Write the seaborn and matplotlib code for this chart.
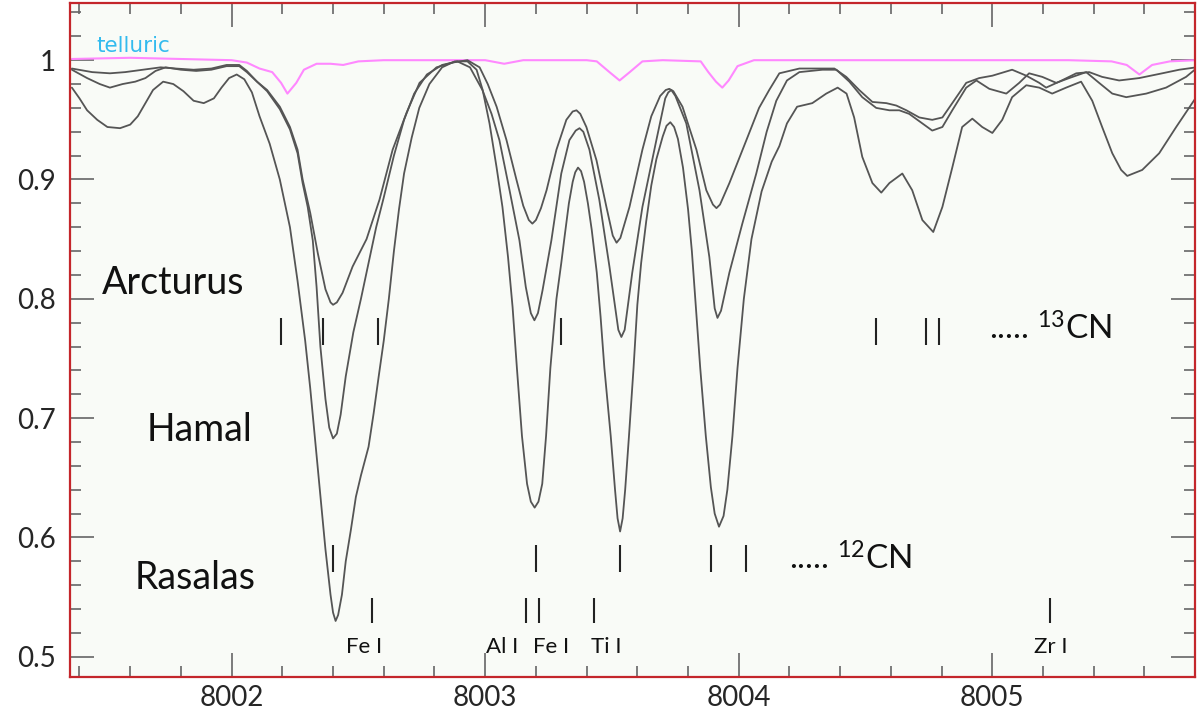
import numpy as np
import pandas as pd
import seaborn as sns
import matplotlib
matplotlib.use("Agg")
import matplotlib.pyplot as plt
from matplotlib.ticker import MultipleLocator, FuncFormatter

# ESPECTRO DE RASALAS (LINEAS MAS PROFUNDAS): (longitud de onda, flujo)
rasalas = [(8001.37, 0.977), (8001.40, 0.968), (8001.43, 0.958), (8001.47, 0.950), (8001.51, 0.944),
           (8001.56, 0.943), (8001.60, 0.946), (8001.63, 0.953), (8001.66, 0.964), (8001.69, 0.975),
           (8001.73, 0.982), (8001.77, 0.980), (8001.81, 0.974), (8001.85, 0.966), (8001.89, 0.964),
           (8001.93, 0.968), (8001.96, 0.977), (8001.99, 0.985), (8002.02, 0.988), (8002.05, 0.984),
           (8002.08, 0.973), (8002.11, 0.953), (8002.15, 0.930), (8002.19, 0.900), (8002.23, 0.860),
           (8002.26, 0.815), (8002.29, 0.765), (8002.31, 0.725), (8002.33, 0.680), (8002.35, 0.635),
           (8002.37, 0.590), (8002.39, 0.552), (8002.40, 0.537), (8002.41, 0.530), (8002.42, 0.535),
           (8002.435, 0.552), (8002.45, 0.580), (8002.47, 0.606), (8002.49, 0.634), (8002.51, 0.652),
           (8002.54, 0.676), (8002.56, 0.704), (8002.58, 0.735), (8002.60, 0.765), (8002.62, 0.800),
           (8002.64, 0.840), (8002.66, 0.875), (8002.68, 0.905), (8002.71, 0.935), (8002.74, 0.960),
           (8002.78, 0.980), (8002.83, 0.994), (8002.88, 0.999), (8002.93, 0.999), (8002.966, 0.992),
           (8002.99, 0.975), (8003.017, 0.947), (8003.045, 0.910), (8003.068, 0.877), (8003.09, 0.835),
           (8003.108, 0.793), (8003.125, 0.742), (8003.145, 0.685), (8003.165, 0.645), (8003.18, 0.630),
           (8003.195, 0.625), (8003.21, 0.630), (8003.225, 0.645), (8003.24, 0.685), (8003.257, 0.742),
           (8003.281, 0.800), (8003.30, 0.830), (8003.313, 0.852), (8003.33, 0.880), (8003.345, 0.898),
           (8003.355, 0.906), (8003.366, 0.910), (8003.378, 0.907), (8003.39, 0.898), (8003.405, 0.880),
           (8003.42, 0.858), (8003.44, 0.822), (8003.455, 0.785), (8003.47, 0.742), (8003.495, 0.685),
           (8003.512, 0.640), (8003.522, 0.616), (8003.532, 0.605), (8003.542, 0.616), (8003.552, 0.640),
           (8003.567, 0.685), (8003.585, 0.742), (8003.60, 0.795), (8003.615, 0.830), (8003.635, 0.865),
           (8003.655, 0.895), (8003.675, 0.917), (8003.70, 0.936), (8003.715, 0.945), (8003.73, 0.948),
           (8003.745, 0.944), (8003.76, 0.934), (8003.78, 0.910), (8003.80, 0.875), (8003.815, 0.840),
           (8003.83, 0.795), (8003.848, 0.742), (8003.87, 0.685), (8003.89, 0.642), (8003.905, 0.620),
           (8003.922, 0.609), (8003.94, 0.618), (8003.955, 0.640), (8003.975, 0.685), (8003.995, 0.742),
           (8004.02, 0.800), (8004.05, 0.850), (8004.09, 0.890), (8004.13, 0.915), (8004.16, 0.928),
           (8004.19, 0.947), (8004.23, 0.961), (8004.29, 0.964), (8004.345, 0.972), (8004.39, 0.977),
           (8004.425, 0.972), (8004.455, 0.952), (8004.487, 0.919), (8004.527, 0.897), (8004.562, 0.889),
           (8004.594, 0.897), (8004.645, 0.905), (8004.684, 0.891), (8004.724, 0.866), (8004.767, 0.856),
           (8004.803, 0.877), (8004.842, 0.910), (8004.881, 0.944), (8004.921, 0.951), (8004.96, 0.944),
           (8005.0, 0.939), (8005.039, 0.950), (8005.078, 0.969), (8005.134, 0.979), (8005.185, 0.977),
           (8005.236, 0.972), (8005.291, 0.977), (8005.35, 0.982), (8005.394, 0.966), (8005.433, 0.944),
           (8005.473, 0.922), (8005.508, 0.908), (8005.532, 0.903), (8005.591, 0.908), (8005.658, 0.922),
           (8005.725, 0.944), (8005.804, 0.969)]

# ESPECTRO DE ARCTURUS (LINEAS MAS DEBILES)
arcturus = [(8001.37, 0.993), (8001.45, 0.990), (8001.52, 0.989), (8001.58, 0.990), (8001.65, 0.992),
            (8001.72, 0.994), (8001.78, 0.993), (8001.85, 0.992), (8001.92, 0.993), (8001.98, 0.996),
            (8002.03, 0.996), (8002.06, 0.991), (8002.10, 0.982), (8002.14, 0.975), (8002.19, 0.961),
            (8002.23, 0.944), (8002.26, 0.925), (8002.28, 0.900), (8002.31, 0.872), (8002.34, 0.838),
            (8002.37, 0.808), (8002.39, 0.797), (8002.40, 0.795), (8002.415, 0.797), (8002.4375, 0.805),
            (8002.477, 0.827), (8002.532, 0.850), (8002.583, 0.883), (8002.635, 0.925), (8002.69, 0.956),
            (8002.741, 0.981), (8002.808, 0.994), (8002.871, 0.998), (8002.93, 1.000), (8002.978, 0.994),
            (8003.01, 0.980), (8003.045, 0.961), (8003.084, 0.933), (8003.123, 0.900), (8003.15, 0.878),
            (8003.172, 0.866), (8003.186, 0.863), (8003.20, 0.866), (8003.22, 0.876), (8003.242, 0.891),
            (8003.281, 0.925), (8003.32, 0.950), (8003.345, 0.957), (8003.36, 0.958), (8003.375, 0.955),
            (8003.399, 0.944), (8003.439, 0.916), (8003.478, 0.877), (8003.503, 0.853), (8003.518, 0.847),
            (8003.533, 0.851), (8003.569, 0.877), (8003.62, 0.925), (8003.655, 0.953), (8003.69, 0.970),
            (8003.712, 0.975), (8003.726, 0.976), (8003.742, 0.974), (8003.778, 0.961), (8003.833, 0.925),
            (8003.872, 0.891), (8003.898, 0.879), (8003.912, 0.876), (8003.926, 0.879), (8003.963, 0.897),
            (8004.03, 0.933), (8004.08, 0.960), (8004.12, 0.975), (8004.16, 0.989), (8004.239, 0.993),
            (8004.33, 0.993), (8004.377, 0.993), (8004.424, 0.986), (8004.475, 0.975), (8004.527, 0.965),
            (8004.582, 0.964), (8004.621, 0.962), (8004.661, 0.958), (8004.712, 0.952), (8004.763, 0.950),
            (8004.803, 0.952), (8004.842, 0.964), (8004.897, 0.981), (8004.948, 0.985), (8005.0, 0.987),
            (8005.078, 0.992), (8005.134, 0.987), (8005.185, 0.981), (8005.212, 0.977), (8005.264, 0.982),
            (8005.331, 0.989), (8005.382, 0.990), (8005.433, 0.986), (8005.50, 0.983), (8005.579, 0.985),
            (8005.67, 0.989), (8005.737, 0.992), (8005.804, 0.994)]

# ESPECTRO DE HAMAL (INTERMEDIO)
hamal = [(8001.37, 0.992), (8001.43, 0.985), (8001.48, 0.980), (8001.52, 0.977), (8001.57, 0.980),
         (8001.62, 0.982), (8001.66, 0.985), (8001.70, 0.991), (8001.74, 0.994), (8001.80, 0.992),
         (8001.86, 0.991), (8001.92, 0.992), (8001.98, 0.995), (8002.03, 0.995), (8002.06, 0.990),
         (8002.10, 0.982), (8002.14, 0.974), (8002.19, 0.959), (8002.23, 0.942), (8002.26, 0.922),
         (8002.28, 0.897), (8002.30, 0.877), (8002.32, 0.849), (8002.335, 0.810), (8002.35, 0.760),
         (8002.37, 0.716), (8002.385, 0.692), (8002.40, 0.683), (8002.415, 0.687), (8002.43, 0.703),
         (8002.45, 0.735), (8002.48, 0.772), (8002.51, 0.800), (8002.54, 0.830), (8002.57, 0.860),
         (8002.60, 0.885), (8002.64, 0.920), (8002.68, 0.950), (8002.72, 0.972), (8002.77, 0.988),
         (8002.83, 0.996), (8002.89, 0.999), (8002.94, 0.994), (8002.989, 0.975), (8003.025, 0.955),
         (8003.056, 0.933), (8003.096, 0.891), (8003.135, 0.849), (8003.16, 0.810), (8003.18, 0.788),
         (8003.194, 0.782), (8003.208, 0.788), (8003.226, 0.807), (8003.261, 0.849), (8003.30, 0.905),
         (8003.332, 0.933), (8003.357, 0.941), (8003.372, 0.943), (8003.387, 0.940), (8003.411, 0.925),
         (8003.45, 0.883), (8003.49, 0.827), (8003.525, 0.774), (8003.537, 0.768), (8003.55, 0.774),
         (8003.58, 0.822), (8003.62, 0.877), (8003.675, 0.933), (8003.71, 0.968), (8003.722, 0.973),
         (8003.734, 0.975), (8003.75, 0.970), (8003.793, 0.947), (8003.845, 0.891), (8003.884, 0.835),
         (8003.905, 0.792), (8003.916, 0.784), (8003.93, 0.790), (8003.963, 0.822), (8004.014, 0.863),
         (8004.069, 0.905), (8004.11, 0.940), (8004.148, 0.966), (8004.19, 0.983), (8004.239, 0.990),
         (8004.33, 0.992), (8004.385, 0.992), (8004.436, 0.982), (8004.487, 0.969), (8004.542, 0.960),
         (8004.594, 0.958), (8004.633, 0.958), (8004.672, 0.955), (8004.724, 0.947), (8004.763, 0.941),
         (8004.803, 0.944), (8004.842, 0.958), (8004.897, 0.977), (8004.937, 0.983), (8004.988, 0.976),
         (8005.055, 0.972), (8005.106, 0.981), (8005.145, 0.989), (8005.197, 0.986), (8005.252, 0.981),
         (8005.303, 0.985), (8005.37, 0.990), (8005.421, 0.981), (8005.473, 0.972), (8005.528, 0.969),
         (8005.607, 0.972), (8005.685, 0.977), (8005.764, 0.986), (8005.804, 0.993)]

# ESPECTRO TELURICO
telluric = [(8001.37, 1.001), (8001.60, 1.002), (8001.80, 1.001), (8002.00, 1.000), (8002.06, 0.998),
            (8002.11, 0.993), (8002.16, 0.990), (8002.195, 0.981), (8002.22, 0.972), (8002.255, 0.981),
            (8002.285, 0.992), (8002.335, 0.997), (8002.39, 0.997), (8002.44, 0.996), (8002.50, 0.999),
            (8002.60, 1.000), (8002.80, 1.000), (8003.00, 1.000), (8003.075, 0.997), (8003.15, 1.000),
            (8003.40, 1.000), (8003.44, 0.999), (8003.49, 0.990), (8003.53, 0.983), (8003.57, 0.990),
            (8003.62, 0.999), (8003.70, 1.000), (8003.85, 0.999), (8003.88, 0.990), (8003.91, 0.982),
            (8003.935, 0.977), (8003.96, 0.983), (8003.995, 0.995), (8004.06, 1.000), (8004.50, 1.000),
            (8004.80, 1.000), (8005.00, 1.000), (8005.30, 1.000), (8005.47, 0.999), (8005.53, 0.996),
            (8005.58, 0.988), (8005.63, 0.996), (8005.70, 0.999), (8005.804, 1.000)]

# IDENTIFICACION DE LINEAS
cn13_lines = [8002.193, 8002.359, 8002.579, 8003.30, 8004.54, 8004.74, 8004.79]
cn12_lines = [8002.40, 8003.20, 8003.53, 8003.89, 8004.03]
atomic_lines = [8002.552, 8003.159, 8003.214, 8003.431, 8005.228]
atomic_names = ["Fe I", "Al I", "Fe I", "Ti I", "Zr I"]
atomic_label_x = [8002.524, 8003.068, 8003.261, 8003.478, 8005.232]

star_names = ["Arcturus", "Hamal", "Rasalas"]
star_label_x = [8001.771, 8001.874, 8001.858]
star_label_y = [0.813, 0.690, 0.566]

sns.set_theme(style="ticks")
plt.rcParams['font.family'] = ['Lato', 'DejaVu Sans']

fig = plt.figure(figsize=(12, 7.28), dpi=100)
ax = fig.add_axes([0.058, 0.07, 0.938, 0.926])
ax.set_facecolor('#f9fbf7')

grey = '#555555'
tel = pd.DataFrame(telluric, columns=['wl', 'flux'])
sns.lineplot(data=tel, x='wl', y='flux', ax=ax, color='#ff88ff', lw=1.5, estimator=None)
for spec in [arcturus, hamal, rasalas]:
    df = pd.DataFrame(spec, columns=['wl', 'flux'])
    sns.lineplot(data=df, x='wl', y='flux', ax=ax, color=grey, lw=1.3, estimator=None)

# MARCAS DE LINEAS
ax.vlines(cn13_lines, 0.761, 0.784, color='#222222', lw=1.5)
ax.vlines(cn12_lines, 0.571, 0.594, color='#222222', lw=1.5)
ax.vlines(atomic_lines, 0.528, 0.549, color='#222222', lw=1.5)

for name, xx in zip(atomic_names, atomic_label_x):
    ax.text(xx, 0.508, name, ha='center', va='center', fontsize=16, color='#111111')

for name, xx, yy in zip(star_names, star_label_x, star_label_y):
    ax.text(xx, yy, name, ha='center', va='center', fontsize=27, color='#111111')

ax.text(8004.988, 0.7655, r"..... $\mathregular{^{13}}$CN", ha='left', va='baseline',
        fontsize=24, color='#111111')
ax.text(8004.20, 0.573, r"..... $\mathregular{^{12}}$CN", ha='left', va='baseline',
        fontsize=24, color='#111111')
ax.text(8001.468, 1.0067, "telluric", ha='left', va='baseline', fontsize=15.5,
        color='#33bbee', family='DejaVu Sans')

ax.set_xlim(8001.361, 8005.80)
ax.set_ylim(0.483, 1.048)
ax.set_xlabel('')
ax.set_ylabel('')

ax.xaxis.set_major_locator(MultipleLocator(1))
ax.xaxis.set_minor_locator(MultipleLocator(0.2))
ax.yaxis.set_major_locator(MultipleLocator(0.1))
ax.yaxis.set_minor_locator(MultipleLocator(0.02))
ax.xaxis.set_major_formatter(FuncFormatter(lambda v, p: f"{v:.0f}"))
ax.yaxis.set_major_formatter(FuncFormatter(lambda v, p: f"{v:g}"))

ax.tick_params(which='both', direction='in', top=True, right=True, color='#666666', width=1.2)
ax.tick_params(which='major', length=17, labelsize=20)
ax.tick_params(axis='y', which='major', pad=10)
ax.tick_params(axis='x', which='major', pad=6)
ax.tick_params(which='minor', length=8)

for sp in ax.spines.values():
    sp.set_color('#c4262b')
    sp.set_linewidth(1.6)

fig.savefig('out.png', dpi=100)
